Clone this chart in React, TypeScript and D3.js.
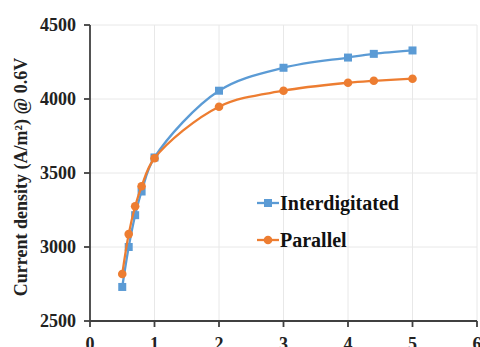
import React from "react";
import * as d3 from "d3";

const xValues = [0.5, 0.6, 0.7, 0.8, 1, 2, 3, 4, 4.4, 5];
const interdigitated = [2730, 3000, 3215, 3375, 3605, 4056, 4211, 4280, 4305, 4328];
const parallel = [2818, 3087, 3275, 3410, 3600, 3948, 4056, 4110, 4123, 4137];
const xTicks = [0, 1, 2, 3, 4, 5, 6];
const yTicks = [2500, 3000, 3500, 4000, 4500];
const seriesNames = ["Interdigitated", "Parallel"];
const colors = ["#5B9BD5", "#ED7D31"];

export default function App() {
  const W = 480, H = 347;
  const x = d3.scaleLinear().domain([0, 6]).range([90, 477]);
  const y = d3.scaleLinear().domain([2500, 4500]).range([321, 25]);
  const line = d3
    .line<number>()
    .x((_, i) => x(xValues[i]))
    .y((d) => y(d))
    .curve(d3.curveCatmullRom.alpha(0.5));
  const font = "'Liberation Serif', 'Times New Roman', serif";
  const axisColor = "#404040";
  const series = [interdigitated, parallel];
  return (
    <svg width={W} height={H} style={{ position: "absolute", left: 0, top: 0, background: "#fff" }}>
      {/* gridlines */}
      {yTicks.slice(1).map((t) => (
        <line key={"gy" + t} x1={x(0)} x2={x(6)} y1={y(t)} y2={y(t)} stroke="#e8e8e8" strokeWidth={1} />
      ))}
      {xTicks.slice(1).map((t) => (
        <line key={"gx" + t} x1={x(t)} x2={x(t)} y1={y(2500)} y2={y(4500)} stroke="#e8e8e8" strokeWidth={1} />
      ))}
      {/* axes */}
      <line x1={x(0)} x2={x(0)} y1={y(2500)} y2={y(4500)} stroke={axisColor} strokeWidth={1.8} />
      <line x1={x(0)} x2={x(6)} y1={y(2500)} y2={y(2500)} stroke={axisColor} strokeWidth={1.8} />
      {yTicks.map((t) => (
        <g key={"ty" + t}>
          <line x1={x(0) - 6} x2={x(0)} y1={y(t)} y2={y(t)} stroke={axisColor} strokeWidth={1.8} />
          <text x={76} y={y(t)} dy="0.35em" textAnchor="end" fontFamily={font} fontWeight="bold" fontSize={18} fill="#222">
            {t}
          </text>
        </g>
      ))}
      {xTicks.map((t) => (
        <g key={"tx" + t}>
          <line x1={x(t)} x2={x(t)} y1={y(2500)} y2={y(2500) + 6} stroke={axisColor} strokeWidth={1.8} />
          <text x={x(t)} y={350} textAnchor="middle" fontFamily={font} fontWeight="bold" fontSize={18} fill="#222">
            {t}
          </text>
        </g>
      ))}
      <text
        transform={`translate(27,${(y(2500) + y(4500)) / 2 + 4}) rotate(-90)`}
        textAnchor="middle"
        fontFamily={font}
        fontWeight="bold"
        fontSize={18}
        fill="#222"
      >
        Current density (A/m²) @ 0.6V
      </text>
      {/* series */}
      {series.map((s, si) => (
        <g key={"s" + si}>
          <path d={line(s) || ""} fill="none" stroke={colors[si]} strokeWidth={2.3} />
          {s.map((v, i) =>
            si === 0 ? (
              <rect key={i} x={x(xValues[i]) - 4} y={y(v) - 4} width={8} height={8} fill={colors[si]} />
            ) : (
              <circle key={i} cx={x(xValues[i])} cy={y(v)} r={4.3} fill={colors[si]} />
            )
          )}
        </g>
      ))}
      {/* legend */}
      {seriesNames.map((n, i) => {
        const ly = 203 + i * 37;
        return (
          <g key={"l" + i}>
            <line x1={257} x2={279} y1={ly} y2={ly} stroke={colors[i]} strokeWidth={2.3} />
            {i === 0 ? (
              <rect x={264} y={ly - 4} width={8} height={8} fill={colors[i]} />
            ) : (
              <circle cx={268} cy={ly} r={4.3} fill={colors[i]} />
            )}
            <text x={280} y={ly} dy="0.35em" fontFamily={font} fontWeight="bold" fontSize={20} fill="#111">
              {n}
            </text>
          </g>
        );
      })}
    </svg>
  );
}
